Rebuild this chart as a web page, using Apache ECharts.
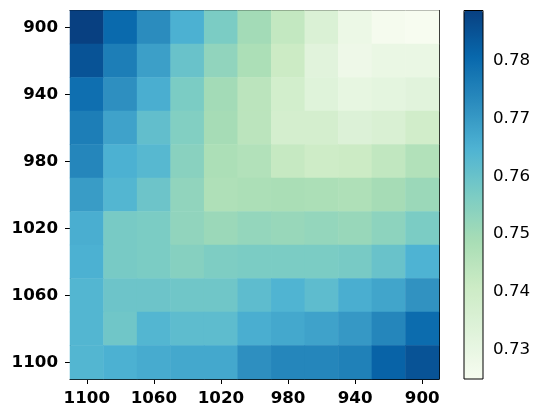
<!DOCTYPE html>
<html>
<head>
<meta charset="utf-8">
<script src="https://cdn.jsdelivr.net/npm/echarts@6/dist/echarts.min.js"></script>
<style>html,body{margin:0;padding:0;background:#fff}#c{width:542px;height:417px}</style>
</head>
<body>
<div id="c"></div>
<script>
var xLabels = ['1100','1080','1060','1040','1020','1000','980','960','940','920','900'];
var yLabels = ['900','920','940','960','980','1000','1020','1040','1060','1080','1100'];
var values = [
  [0.7886, 0.7803, 0.7727, 0.7651, 0.7568, 0.7498, 0.7428, 0.7352, 0.7288, 0.7256, 0.7250],
  [0.7848, 0.7759, 0.7689, 0.7600, 0.7530, 0.7479, 0.7409, 0.7326, 0.7282, 0.7295, 0.7295],
  [0.7791, 0.7721, 0.7657, 0.7568, 0.7498, 0.7447, 0.7384, 0.7333, 0.7307, 0.7314, 0.7326],
  [0.7759, 0.7682, 0.7612, 0.7555, 0.7492, 0.7447, 0.7377, 0.7377, 0.7345, 0.7358, 0.7390],
  [0.7740, 0.7651, 0.7632, 0.7543, 0.7479, 0.7466, 0.7422, 0.7403, 0.7409, 0.7434, 0.7466],
  [0.7695, 0.7638, 0.7593, 0.7530, 0.7473, 0.7479, 0.7485, 0.7479, 0.7473, 0.7492, 0.7511],
  [0.7657, 0.7574, 0.7568, 0.7530, 0.7511, 0.7523, 0.7517, 0.7523, 0.7517, 0.7536, 0.7568],
  [0.7651, 0.7574, 0.7568, 0.7549, 0.7562, 0.7568, 0.7568, 0.7568, 0.7574, 0.7600, 0.7647],
  [0.7638, 0.7593, 0.7593, 0.7587, 0.7587, 0.7619, 0.7644, 0.7619, 0.7657, 0.7676, 0.7714],
  [0.7638, 0.7587, 0.7638, 0.7619, 0.7619, 0.7657, 0.7670, 0.7682, 0.7702, 0.7740, 0.7797],
  [0.7638, 0.7651, 0.7663, 0.7670, 0.7670, 0.7721, 0.7740, 0.7740, 0.7752, 0.7816, 0.7848]
];
var cbTicks = [0.73, 0.74, 0.75, 0.76, 0.77, 0.78];
var vMin = 0.725, vMax = 0.7886;
var gnbu = ['#f7fcf0','#e0f3db','#ccebc5','#a8ddb5','#7bccc4','#4eb3d3','#2b8cbe','#0868ac','#084081'];

var data = [];
for (var r = 0; r < yLabels.length; r++) {
  for (var c = 0; c < xLabels.length; c++) {
    data.push([c, r, values[r][c]]);
  }
}
var FONT = 'DejaVu Sans';
var chart = echarts.init(document.getElementById('c'), null, {renderer: 'canvas'});
chart.setOption({
  animation: false,
  backgroundColor: '#fff',
  grid: [
    {left: 70, top: 10.5, width: 369, height: 368.5, show: false},
    {left: 464, top: 10.5, width: 19, height: 368.5, show: true, z: 10,
     backgroundColor: 'transparent', borderColor: '#000', borderWidth: 1}
  ],
  xAxis: [
    {type: 'category', gridIndex: 0, data: xLabels, position: 'bottom',
     axisLine: {show: true, lineStyle: {color: '#000', width: 1}},
     axisTick: {show: true, interval: 1, alignWithLabel: true, length: 5, lineStyle: {color: '#000'}},
     axisLabel: {interval: 1, margin: 11, color: '#000', fontFamily: FONT, fontWeight: 'bold', fontSize: 16.7},
     splitLine: {show: false}},
    {type: 'category', gridIndex: 0, data: xLabels, position: 'top',
     axisLine: {show: true, lineStyle: {color: '#000', width: 1}},
     axisTick: {show: false}, axisLabel: {show: false}, splitLine: {show: false}},
    {type: 'value', gridIndex: 1, show: false, min: 0, max: 1}
  ],
  yAxis: [
    {type: 'category', gridIndex: 0, data: yLabels, inverse: true, position: 'left',
     axisLine: {show: true, lineStyle: {color: '#000', width: 1}},
     axisTick: {show: true, interval: 1, alignWithLabel: true, length: 5, lineStyle: {color: '#000'}},
     axisLabel: {interval: 1, margin: 12, color: '#000', fontFamily: FONT, fontWeight: 'bold', fontSize: 16.7},
     splitLine: {show: false}},
    {type: 'category', gridIndex: 0, data: yLabels, inverse: true, position: 'right',
     axisLine: {show: true, lineStyle: {color: '#000', width: 1}},
     axisTick: {show: false}, axisLabel: {show: false}, splitLine: {show: false}},
    {type: 'value', gridIndex: 1, min: vMin, max: vMax, position: 'right',
     axisLine: {show: false},
     axisTick: {show: true, length: 5, lineStyle: {color: '#000'}, customValues: cbTicks},
     axisLabel: {margin: 10, color: '#000', fontFamily: FONT, fontSize: 16.7, customValues: cbTicks,
       formatter: function (v) { return v.toFixed(2); }},
     splitLine: {show: false}}
  ],
  visualMap: [{
    type: 'continuous', min: vMin, max: vMax, seriesIndex: 0,
    orient: 'vertical', left: 464, top: 10.5, itemWidth: 19, itemHeight: 368.5,
    padding: 0, calculable: false, text: null, hoverLink: false,
    inRange: {color: gnbu}
  }],
  series: [{
    type: 'heatmap', xAxisIndex: 0, yAxisIndex: 0, data: data,
    itemStyle: {borderWidth: 0},
    emphasis: {disabled: true}
  }]
});
</script>
</body>
</html>
